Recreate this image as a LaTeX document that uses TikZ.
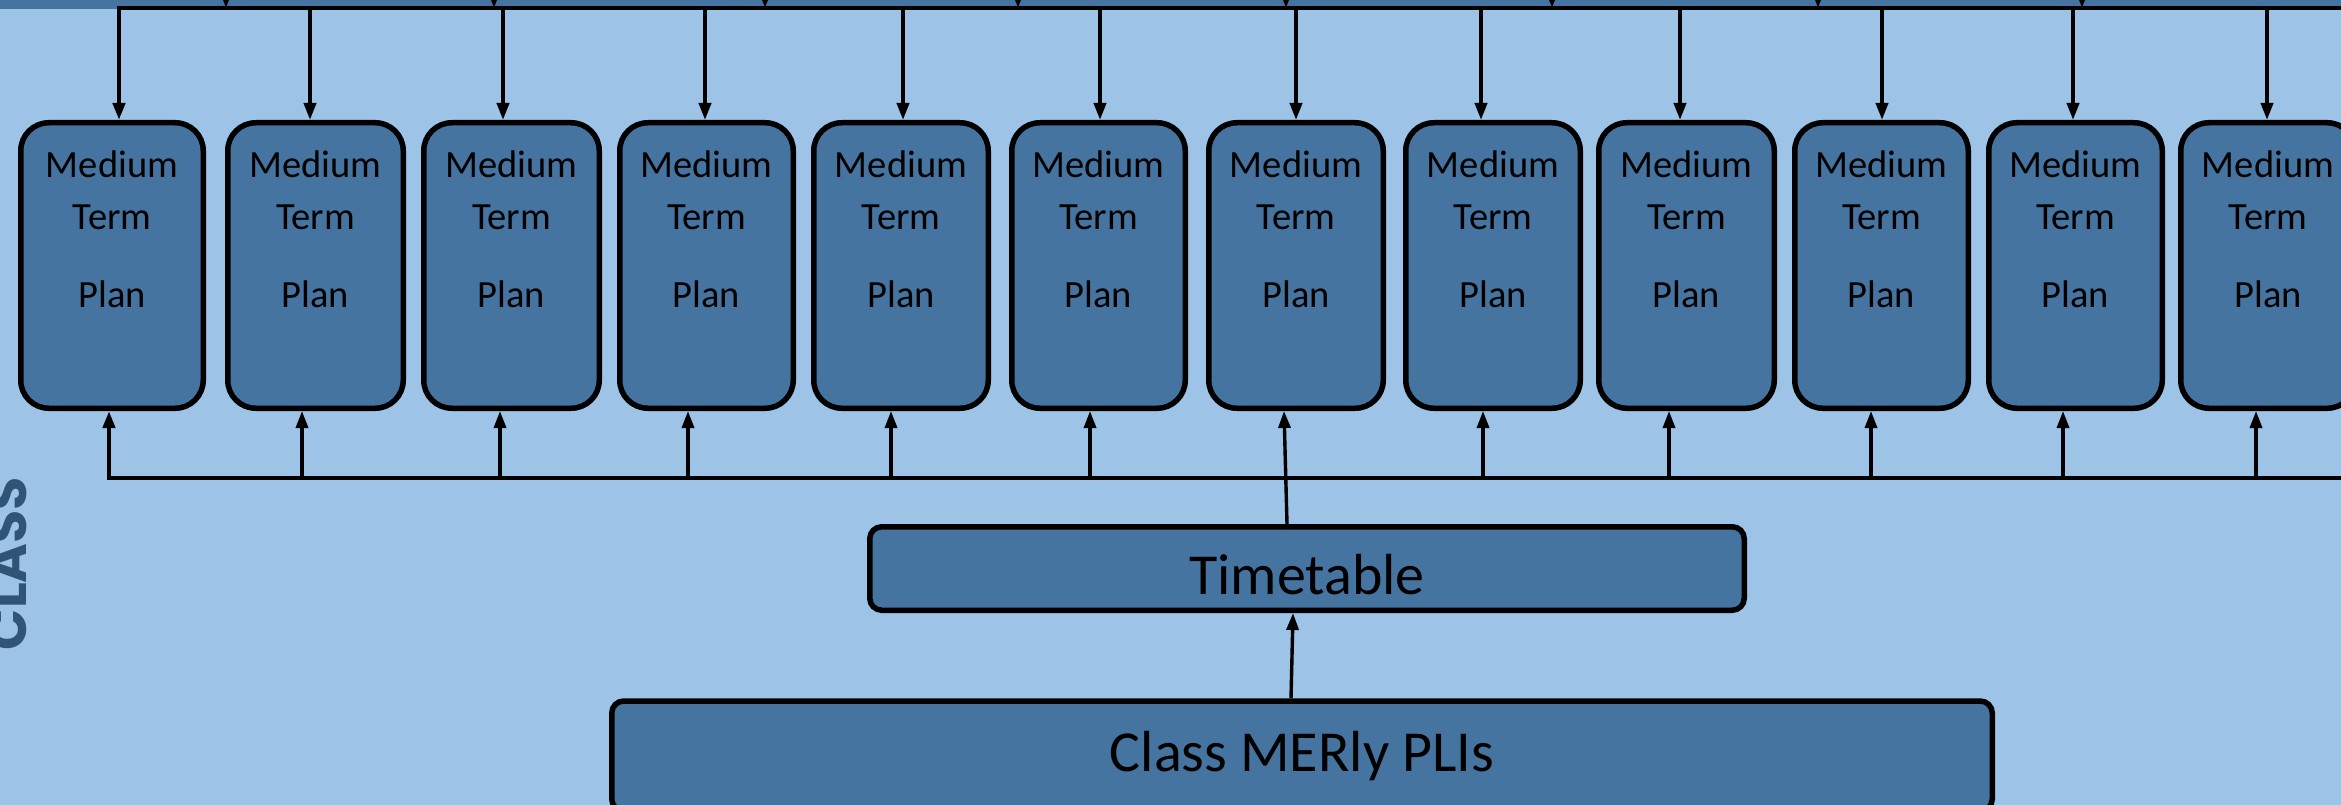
\documentclass[tikz,border=0pt]{standalone}
\usepackage{fontspec}
\setmainfont{Carlito}
\newfontfamily\classfont{Poppins}
\usetikzlibrary{arrows.meta}
\definecolor{bgblue}{HTML}{9DC3E6}
\definecolor{boxblue}{HTML}{44749F}
\definecolor{classblue}{HTML}{2F5476}
\begin{document}
\begin{tikzpicture}[x=1pt,y=-1pt,
  mtp/.style={draw=black, line width=5.5pt, fill=boxblue, rounded corners=28pt, minimum height=285.5pt, inner sep=0pt},
  mtptext/.style={anchor=north, align=center, inner sep=0pt, font=\fontsize{38.5}{52}\selectfont},
  widebox/.style={draw=black, line width=5.5pt, fill=boxblue, rounded corners=12pt, inner sep=0pt, font=\fontsize{58}{70}\selectfont, text depth=0pt},
  conn/.style={draw=black, line width=3.8pt, -{Triangle[length=17pt,width=12pt]}},
  bus/.style={draw=black, line width=4.5pt}
]
\path[use as bounding box] (0,0) rectangle (2341,805);
\clip (0,0) rectangle (2341,805);
\fill[bgblue] (0,0) rectangle (2341,805);
\fill[boxblue] (0,0) rectangle (2341,9);

% Medium Term Plan boxes
\foreach \i/\cx/\w in {1/112/182.5, 2/315.5/175.5, 3/511.5/175.5, 4/706.5/173.5, 5/901/174.5, 6/1098.5/173.5, 7/1296/174.5, 8/1493/174.5, 9/1686.5/175.5, 10/1881.5/173.5, 11/2075.5/173.5, 12/2268/174.5} {
  \node[mtp, minimum width=\w pt] (m\i) at (\cx,265.5) {};
  \node[mtptext] (t\i) at (\cx,151) {Medium\\Term\\[26pt]Plan};
}

% Timetable and Class MERly PLIs
\node[widebox, minimum width=874.5pt, minimum height=83.5pt, text height=52pt] (tt) at (1307,568.5) {Timetable};
\node[widebox, minimum width=1380.5pt, minimum height=110pt, text height=30pt] (cm) at (1302,756) {Class MERly PLIs};

% CLASS label
\node[rotate=90, anchor=base, inner sep=0pt, text=classblue, font=\classfont\bfseries\fontsize{54}{60}\selectfont] (cl) at (26,563.5) {CLASS};

% free ends
\coordinate (topR) at (2360,8);
\coordinate (botR) at (2360,478);

% top bus and drops
\draw[bus] (topR) -- (119,8);
\draw[conn, line width=4.5pt] (topR) -- (119,8) -- (119,0 |- m1.north);
\foreach \i/\x in {2/310, 3/503, 4/705, 5/903, 6/1100, 7/1296, 8/1481, 9/1680, 10/1882, 11/2073, 12/2267} {
  \coordinate (d\i) at (\x,8);
  \draw[conn] (d\i) -- (\x,0 |- m\i.north);
}

% small incoming arrows from above
\foreach \j/\x in {1/226, 2/494, 3/765, 4/1018, 5/1286, 6/1552, 7/1818, 8/2082} {
  \coordinate (s\j) at (\x,-30);
  \coordinate (e\j) at (\x,8);
  \draw[conn] (s\j) -- (e\j);
}

% bottom bus and up arrows
\draw[conn, line width=4.2pt] (botR) -- (109,478) -- (109,0 |- m1.south);
\foreach \i/\x in {2/302, 3/500, 4/688, 5/891, 6/1090, 8/1483, 9/1669, 10/1871, 11/2063, 12/2256} {
  \coordinate (u\i) at (\x,478);
  \draw[conn, line width=3.4pt] (u\i) -- (\x,0 |- m\i.south);
}

% Timetable to box 7, Class to Timetable
\draw[conn, line width=3.4pt] (1287,0 |- tt.north) -- (1284,0 |- m7.south);
\draw[conn, line width=3.4pt] (1291,0 |- cm.north) -- (1293,0 |- tt.south);
\end{tikzpicture}
\end{document}
